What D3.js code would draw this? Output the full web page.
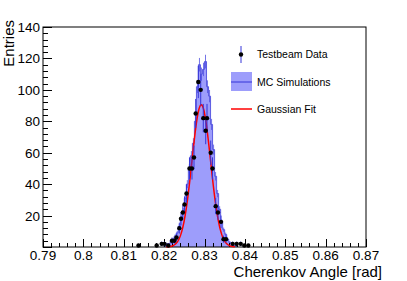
<!DOCTYPE html>
<html lang="en">
<head>
  <meta charset="UTF-8">
  <title>Cherenkov Angle</title>
  <script src="https://d3js.org/d3.v7.min.js"></script>
  <style>
    body { margin: 0; padding: 0; background: #fff; }
    svg { display: block; }
    text { font-family: 'Liberation Sans', Arial, Helvetica, sans-serif; fill: #000; }
  </style>
</head>
<body>
  <script>
    // Testbeam data points (angle in rad, entries)
    var dataAngle = [0.81365, 0.81816, 0.81940, 0.82009, 0.82103, 0.82195, 0.82252, 0.82307,
                     0.82376, 0.82418, 0.82463, 0.82505, 0.82554, 0.82628, 0.82690, 0.82740,
                     0.82782, 0.82846, 0.82906, 0.82970, 0.83030, 0.83062, 0.83154, 0.83198,
                     0.83277, 0.83334, 0.83409, 0.83471, 0.83533, 0.83698, 0.83798, 0.83897,
                     0.83986, 0.84085];
    var dataEntries = [1, 1, 2, 2, 1, 4, 4, 6,
                       12, 18, 22, 27, 34, 50, 50, 57,
                       85, 105, 100, 82, 74, 82, 60, 50,
                       26, 22, 16, 5, 5, 2, 2, 2,
                       1, 1];

    // MC simulation histogram
    var mcLow = 0.8200;
    var mcBinWidth = 0.0005;
    var mcEntries = [1, 2, 2, 4, 5, 7, 9, 13, 18, 23,
                     31, 40, 50, 58, 66, 80, 102, 116, 110, 113,
                     118, 102, 96, 78, 62, 45, 34, 24, 16, 11,
                     8, 5, 3, 2, 1, 1];

    // Gaussian fit parameters
    var fitConstant = 90.5;
    var fitMean = 0.8292;
    var fitSigma = 0.0023;
    var fitRange = [0.8205, 0.8375];

    var xTicks = [0.79, 0.8, 0.81, 0.82, 0.83, 0.84, 0.85, 0.86, 0.87];
    var yTicks = [20, 40, 60, 80, 100, 120, 140];

    var W = 407, H = 281;
    var frame = { left: 43, right: 366, top: 27, bottom: 247 };

    var svg = d3.select("body").append("svg")
        .attr("width", W)
        .attr("height", H);

    var x = d3.scaleLinear().domain([0.79, 0.87]).range([frame.left, frame.right]);
    var y = d3.scaleLinear().domain([0, 140]).range([frame.bottom, frame.top]);

    var blueDark = "#3535d8";

    // MC histogram as step path
    var mcPts = [[mcLow, 0]];
    mcEntries.forEach(function(v, i) {
      mcPts.push([mcLow + i * mcBinWidth, v]);
      mcPts.push([mcLow + (i + 1) * mcBinWidth, v]);
    });
    mcPts.push([mcLow + mcEntries.length * mcBinWidth, 0]);

    var line = d3.line().x(d => x(d[0])).y(d => y(d[1]));

    svg.append("path")
        .attr("d", line(mcPts))
        .attr("fill", "#9d9dfb")
        .attr("stroke", "#5050e0")
        .attr("stroke-width", 0.9);

    // MC error bars
    svg.append("g").selectAll("line")
      .data(mcEntries)
      .enter().append("line")
        .attr("x1", (d, i) => x(mcLow + (i + 0.5) * mcBinWidth))
        .attr("x2", (d, i) => x(mcLow + (i + 0.5) * mcBinWidth))
        .attr("y1", d => y(d + Math.sqrt(d) * 0.4))
        .attr("y2", d => y(Math.max(0, d - Math.sqrt(d) * 0.4)))
        .attr("stroke", "#5050e0")
        .attr("stroke-width", 0.8);

    // frame & axes
    svg.append("rect")
        .attr("x", frame.left).attr("y", frame.top)
        .attr("width", frame.right - frame.left)
        .attr("height", frame.bottom - frame.top)
        .attr("fill", "none")
        .attr("stroke", "#000")
        .attr("stroke-width", 1);

    var xMinor = d3.range(0, 41).map(i => 0.79 + i * 0.002);
    svg.append("g").selectAll("line")
      .data(xMinor)
      .enter().append("line")
        .attr("x1", d => Math.round(x(d)) + 0.5)
        .attr("x2", d => Math.round(x(d)) + 0.5)
        .attr("y1", frame.bottom)
        .attr("y2", (d, i) => frame.bottom - (i % 5 === 0 ? 8 : 4))
        .attr("stroke", "#000");

    var yMinor = d3.range(0, 36).map(i => i * 4);
    svg.append("g").selectAll("line")
      .data(yMinor)
      .enter().append("line")
        .attr("y1", d => Math.round(y(d)) + 0.5)
        .attr("y2", d => Math.round(y(d)) + 0.5)
        .attr("x1", frame.left)
        .attr("x2", (d, i) => frame.left + (i % 5 === 0 ? 9 : 5))
        .attr("stroke", "#000");

    svg.append("g").selectAll("text")
      .data(xTicks)
      .enter().append("text")
        .attr("x", d => x(d))
        .attr("y", 260)
        .attr("text-anchor", "middle")
        .style("font-size", "13.5px")
        .text(d => d3.format("")(d));

    svg.append("g").selectAll("text")
      .data(yTicks)
      .enter().append("text")
        .attr("x", 40)
        .attr("y", d => y(d) + 5)
        .attr("text-anchor", "end")
        .style("font-size", "13.5px")
        .text(d => d);

    svg.append("text")
        .attr("x", 382)
        .attr("y", 277)
        .attr("text-anchor", "end")
        .style("font-size", "15px")
        .text("Cherenkov Angle [rad]");

    svg.append("text")
        .attr("transform", "translate(13.5,20) rotate(-90)")
        .attr("text-anchor", "end")
        .style("font-size", "15px")
        .text("Entries");

    // Gaussian fit
    var fitX = d3.range(fitRange[0], fitRange[1] + 1e-9, 0.0001);
    svg.append("path")
        .attr("d", line(fitX.map(v => [v, fitConstant * Math.exp(-0.5 * Math.pow((v - fitMean) / fitSigma, 2))])))
        .attr("fill", "none")
        .attr("stroke", "#ff0000")
        .attr("stroke-width", 1.5);

    // data points
    var pts = dataAngle.map((a, i) => ({ a: a, n: dataEntries[i] }));
    svg.append("g").selectAll("line")
      .data(pts)
      .enter().append("line")
        .attr("x1", d => x(d.a)).attr("x2", d => x(d.a))
        .attr("y1", d => y(d.n + Math.sqrt(d.n)))
        .attr("y2", d => y(Math.max(0, d.n - Math.sqrt(d.n))))
        .attr("stroke", blueDark)
        .attr("stroke-width", 1);

    svg.append("g").selectAll("circle")
      .data(pts)
      .enter().append("circle")
        .attr("cx", d => x(d.a))
        .attr("cy", d => y(d.n))
        .attr("r", 2.2)
        .attr("fill", "#000");

    // legend
    var lg = svg.append("g");
    lg.append("line").attr("x1", 241).attr("x2", 241).attr("y1", 46).attr("y2", 63)
        .attr("stroke", blueDark);
    lg.append("circle").attr("cx", 241).attr("cy", 54.5).attr("r", 2.2).attr("fill", "#000");
    lg.append("text").attr("x", 257).attr("y", 58).style("font-size", "10.5px").text("Testbeam Data");

    lg.append("rect").attr("x", 231).attr("y", 72).attr("width", 21).attr("height", 19)
        .attr("fill", "#9d9dfb");
    lg.append("line").attr("x1", 231).attr("x2", 252).attr("y1", 82).attr("y2", 82)
        .attr("stroke", blueDark);
    lg.append("text").attr("x", 257).attr("y", 86).style("font-size", "10.5px").text("MC Simulations");

    lg.append("line").attr("x1", 231).attr("x2", 252).attr("y1", 109).attr("y2", 109)
        .attr("stroke", "#ff0000").attr("stroke-width", 1.5);
    lg.append("text").attr("x", 257).attr("y", 113).style("font-size", "10.5px").text("Gaussian Fit");
  </script>
</body>
</html>
